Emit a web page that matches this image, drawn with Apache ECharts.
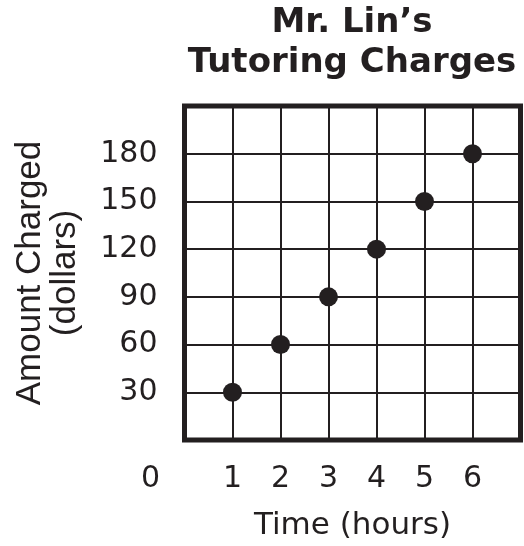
<!DOCTYPE html>
<html>
<head>
<meta charset="utf-8">
<script src="https://cdn.jsdelivr.net/npm/echarts@6/dist/echarts.min.js"></script>
<style>html,body{margin:0;padding:0;background:#fff}#c{width:524px;height:546px}</style>
</head>
<body>
<div id="c"></div>
<script>
const hours = [1, 2, 3, 4, 5, 6];
const charges = [30, 60, 90, 120, 150, 180];
const xTickLabels = ['0', '1', '2', '3', '4', '5', '6'];
const yTickLabels = ['30', '60', '90', '120', '150', '180'];
const titleText = 'Mr. Lin\u2019s\nTutoring Charges';
const xName = 'Time (hours)';
const yName = 'Amount Charged\n(dollars)';

const ink = '#231f20';
const chart = echarts.init(document.getElementById('c'), null, {renderer: 'canvas'});
chart.setOption({
  animation: false,
  backgroundColor: '#fff',
  title: {
    text: titleText,
    left: 347,
    top: -2,
    textAlign: 'center',
    textStyle: {fontFamily: 'DejaVu Sans', fontWeight: 'bold', fontSize: 34, lineHeight: 40, color: ink}
  },
  grid: {left: 184.5, right: 3.5, top: 106, bottom: 104, show: true, borderColor: ink, borderWidth: 5, backgroundColor: 'transparent', z: 5},
  xAxis: {
    type: 'value', min: 0, max: 7, interval: 1,
    axisLine: {show: false}, axisTick: {show: false},
    splitLine: {show: true, lineStyle: {color: ink, width: 2}},
    axisLabel: {
      margin: 24, color: ink, fontFamily: 'DejaVu Sans', fontSize: 30,
      formatter: function (v) {
        const s = String(v);
        if (v === 0) return '{z|' + xTickLabels[0] + '}';
        return xTickLabels.indexOf(s) >= 0 ? s : '';
      },
      rich: {z: {padding: [0, 68, 0, 0], fontFamily: 'DejaVu Sans', fontSize: 30, color: ink}}
    },
    name: xName, nameLocation: 'middle', nameGap: 70,
    nameTextStyle: {fontFamily: 'DejaVu Sans', fontSize: 31, color: ink}
  },
  yAxis: {
    type: 'value', min: 0, max: 210, interval: 30,
    axisLine: {show: false}, axisTick: {show: false},
    splitLine: {show: true, lineStyle: {color: ink, width: 2}},
    axisLabel: {
      margin: 27, color: ink, fontFamily: 'DejaVu Sans', fontSize: 30,
      formatter: function (v) { const s = String(v); return yTickLabels.indexOf(s) >= 0 ? s : ''; }
    },
    name: yName, nameLocation: 'middle', nameGap: 102, nameRotate: 90,
    nameTextStyle: {fontFamily: 'Liberation Sans', fontSize: 35, lineHeight: 35, color: ink}
  },
  series: [{
    type: 'scatter',
    data: hours.map((h, i) => [h, charges[i]]),
    symbol: 'circle', symbolSize: 19,
    itemStyle: {color: ink, opacity: 1},
    z: 10
  }]
});
</script>
</body>
</html>
